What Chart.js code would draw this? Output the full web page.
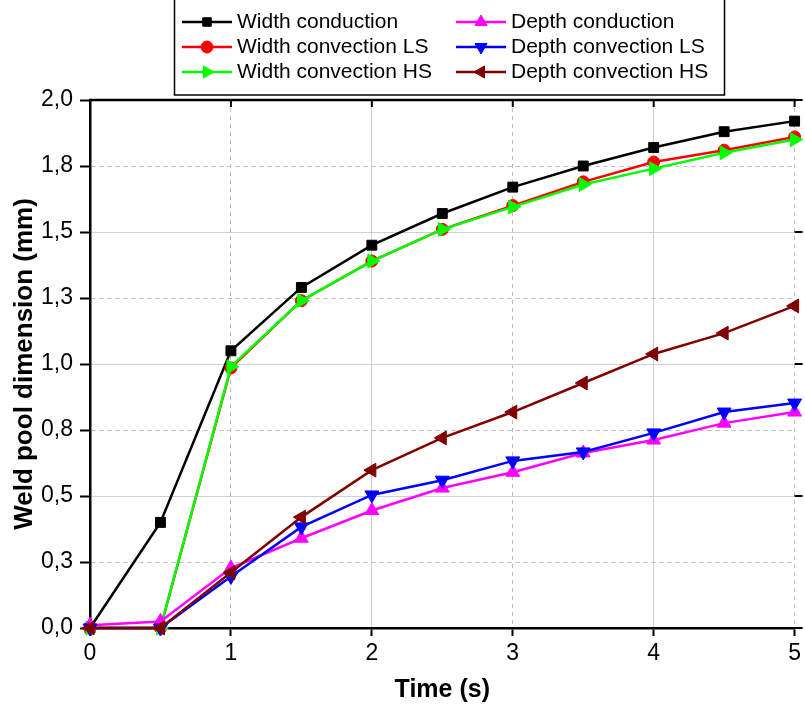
<!DOCTYPE html>
<html>
<head>
<meta charset="utf-8">
<script src="https://cdn.jsdelivr.net/npm/chart.js@4/dist/chart.umd.min.js"></script>
<style>
  html, body { margin: 0; padding: 0; background: #fff; }
  #wrap { position: relative; width: 805px; height: 707px; }
</style>
</head>
<body>
<div id="wrap"><canvas id="myChart"></canvas></div>
<script>
// time in s, dimensions in mm
var tValues     = [0, 0.5, 1, 1.5, 2, 2.5, 3, 3.5, 4, 4.5, 5];
var widthCond   = [0, 0.40, 1.05, 1.29, 1.45, 1.57, 1.67, 1.75, 1.82, 1.88, 1.92];
var widthConvLS = [0, 0, 0.985, 1.24, 1.39, 1.51, 1.60, 1.69, 1.765, 1.81, 1.86];
var widthConvHS = [0, 0, 0.99, 1.24, 1.39, 1.51, 1.595, 1.68, 1.74, 1.80, 1.85];
var depthCond   = [0.01, 0.025, 0.227, 0.34, 0.445, 0.53, 0.59, 0.663, 0.712, 0.776, 0.818];
var depthConvLS = [0, 0, 0.195, 0.383, 0.504, 0.56, 0.633, 0.667, 0.739, 0.818, 0.852];
var depthConvHS = [0, 0, 0.21, 0.42, 0.598, 0.72, 0.818, 0.928, 1.038, 1.117, 1.22];

var xTickLabels = ['0', '1', '2', '3', '4', '5'];
var yTickLabels = ['0,0', '0,3', '0,5', '0,8', '1,0', '1,3', '1,5', '1,8', '2,0'];

var FONT = '"Liberation Sans", Arial, sans-serif';

function pts(arr) {
  return tValues.map((t, i) => ({x: t, y: arr[i]}));
}

function ds(label, arr, color, style, rot, r) {
  return {
    label: label,
    data: pts(arr),
    borderColor: color,
    backgroundColor: color,
    borderWidth: 2.5,
    pointStyle: style,
    pointRotation: rot,
    pointRadius: r,
    pointHoverRadius: r,
    pointBorderWidth: 1,
    pointBorderColor: color,
    pointBackgroundColor: color,
    tension: 0,
    fill: false,
    clip: false
  };
}

var datasets = [
  ds('Width conduction', widthCond, '#000000', 'rect', 0, 7),
  ds('Width convection LS', widthConvLS, '#ff0000', 'circle', 0, 6),
  ds('Width convection HS', widthConvHS, '#00ff00', 'triangle', 90, 8),
  ds('Depth conduction', depthCond, '#ff00ff', 'triangle', 0, 8),
  ds('Depth convection LS', depthConvLS, '#0000ff', 'triangle', 180, 8),
  ds('Depth convection HS', depthConvHS, '#800000', 'triangle', -90, 8)
];
// later series sit on top, like in the original
datasets.forEach((d, i) => { d.order = datasets.length - i; });

// top frame line, mirrored ticks and the boxed legend
var framePlugin = {
  id: 'frame',
  afterDraw: function(chart) {
    var ctx = chart.ctx, a = chart.chartArea;
    var xs = chart.scales.x, ys = chart.scales.y;
    ctx.save();
    ctx.strokeStyle = '#000';
    ctx.lineWidth = 2.5;
    ctx.beginPath();
    ctx.moveTo(a.left - 1, a.top);
    ctx.lineTo(a.right + 1, a.top);
    ctx.stroke();
    ctx.lineWidth = 2;
    ctx.beginPath();
    for (var v = 0; v <= 5; v++) {
      var px = xs.getPixelForValue(v);
      ctx.moveTo(px, a.top);
      ctx.lineTo(px, a.top + 7);
    }
    for (var w = 0; w <= 2; w += 0.5) {
      var py = ys.getPixelForValue(w);
      ctx.moveTo(a.right, py);
      ctx.lineTo(a.right + 8, py);
    }
    ctx.stroke();

    // legend box
    ctx.lineWidth = 1.5;
    ctx.strokeRect(174.5, -2, 550, 97);
    var rowsY = [22, 47, 72];
    var lineX = [182, 456];
    var textX = [237, 511];
    ctx.font = '21px ' + FONT;
    ctx.textBaseline = 'middle';
    ctx.textAlign = 'left';
    chart.data.datasets.forEach(function(d, i) {
      var col = i < 3 ? 0 : 1, row = i % 3;
      var y = rowsY[row], x0 = lineX[col];
      ctx.strokeStyle = d.borderColor;
      ctx.fillStyle = d.borderColor;
      ctx.lineWidth = 2.5;
      ctx.beginPath();
      ctx.moveTo(x0, y);
      ctx.lineTo(x0 + 50, y);
      ctx.stroke();
      ctx.lineWidth = 1;
      Chart.helpers.drawPoint(ctx, {
        pointStyle: d.pointStyle,
        rotation: d.pointRotation,
        radius: d.pointStyle == 'triangle' ? 7 : 6,
        borderWidth: 1
      }, x0 + 25, y);
      ctx.fillStyle = '#000';
      ctx.fillText(d.label, textX[col], y);
    });
    ctx.restore();
  }
};

function isMajorY(v) { return Math.abs(v * 2 - Math.round(v * 2)) < 1e-6; }

const myChart = new Chart('myChart', {
  type: 'line',
  data: { datasets: datasets },
  plugins: [framePlugin],
  options: {
    animation: false,
    responsive: true,
    maintainAspectRatio: false,
    layout: { padding: { top: 100, right: 8, left: 0, bottom: 0 } },
    plugins: {
      legend: { display: false },
      tooltip: { enabled: false }
    },
    scales: {
      x: {
        type: 'linear',
        min: 0,
        max: 5,
        afterFit: function(s) { s.height = 79; },
        ticks: {
          stepSize: 1,
          autoSkip: false,
          maxRotation: 0,
          padding: 4,
          color: '#000',
          font: { family: FONT, size: 23 },
          callback: function(v) { return xTickLabels[Math.round(v)]; }
        },
        grid: {
          color: function(c) {
            if (!c.tick || c.tick.value === 0) return 'rgba(0,0,0,0)';
            return c.tick.value % 2 ? '#bdbdbd' : '#cfcfcf';
          },
          lineWidth: 1,
          tickColor: '#000',
          tickWidth: 2,
          tickLength: 8
        },
        border: {
          display: true,
          color: '#000',
          width: 2.5,
          dash: function(c) { return c.tick && c.tick.value % 2 ? [4, 4] : []; }
        },
        title: {
          display: true,
          text: 'Time (s)',
          color: '#000',
          padding: { top: 0, bottom: 2 },
          font: { family: FONT, size: 25, weight: 'bold' }
        }
      },
      y: {
        min: 0,
        max: 2,
        afterFit: function(s) { s.width = 90; },
        ticks: {
          stepSize: 0.25,
          autoSkip: false,
          padding: 7,
          color: '#000',
          font: { family: FONT, size: 23 },
          callback: function(v) { return yTickLabels[Math.round(v * 4)]; }
        },
        grid: {
          color: function(c) {
            if (!c.tick || c.tick.value === 0 || c.tick.value === 2) return 'rgba(0,0,0,0)';
            return isMajorY(c.tick.value) ? '#cfcfcf' : '#bdbdbd';
          },
          lineWidth: 1,
          tickColor: '#000',
          tickWidth: 2,
          tickLength: 10
        },
        border: {
          display: true,
          color: '#000',
          width: 2.5,
          dash: function(c) { return c.tick && !isMajorY(c.tick.value) ? [4, 4] : []; }
        },
        title: {
          display: true,
          text: 'Weld pool dimension (mm)',
          color: '#000',
          padding: { top: 9, bottom: 0 },
          font: { family: FONT, size: 26, weight: 'bold' }
        }
      }
    }
  }
});
</script>
</body>
</html>
